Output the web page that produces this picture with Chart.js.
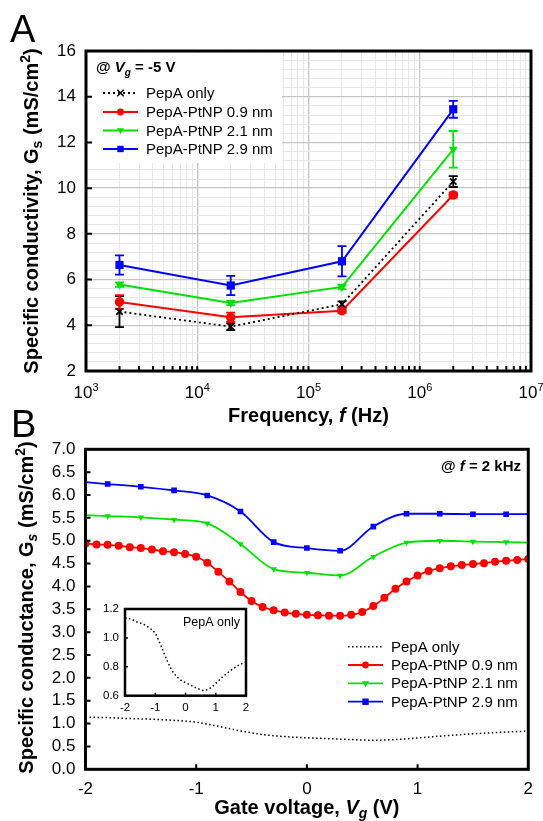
<!DOCTYPE html>
<html>
<head>
<meta charset="utf-8">
<script src="https://cdn.jsdelivr.net/npm/chart.js@4.4.1/dist/chart.umd.min.js"></script>
<style>
  html, body { margin: 0; padding: 0; background: #fff; }
  body { width: 543px; height: 821px; position: relative; overflow: hidden; }
  .box { position: absolute; }
</style>
</head>
<body>
<div class="box" style="left:0;top:0;width:543px;height:430px"><canvas id="chartA"></canvas></div>
<div class="box" style="left:0;top:400px;width:543px;height:421px"><canvas id="chartB"></canvas></div>
<div class="box" style="left:80px;top:595px;width:175px;height:125px"><canvas id="inset"></canvas></div>
<script>
// ---- panel A : conductivity vs frequency @ Vg = -5 V
const freqs = [2e3, 2e4, 2e5, 2e6];
const freqExps = [3, 4, 5, 6, 7];
const pepaOnlyA = [4.60, 3.94, 4.92, 10.29];
const pt09A = [5.02, 4.35, 4.64, 9.70];
const pt21A = [5.78, 4.98, 5.68, 11.70];
const pt29A = [6.64, 5.74, 6.80, 13.45];
const pepaOnlyErr = [0.68, 0.15, 0.13, 0.24];
const pt09Err = [0.30, 0.20, 0.10, 0.10];
const pt21Err = [0.10, 0.10, 0.10, 0.80];
const pt29Err = [0.42, 0.42, 0.66, 0.37];

// ---- panel B : conductance vs gate voltage @ f = 2 kHz
const vgCoarse = [-2, -1.8, -1.5, -1.2, -0.9, -0.6, -0.3, 0, 0.3, 0.6, 0.9, 1.2, 1.5, 1.8, 2];
const pt29B = [6.28, 6.24, 6.18, 6.10, 5.99, 5.64, 4.97, 4.84, 4.78, 5.31, 5.59, 5.59, 5.58, 5.58, 5.58];
const pt21B = [5.56, 5.54, 5.51, 5.46, 5.38, 4.93, 4.38, 4.30, 4.24, 4.65, 4.96, 5.00, 4.98, 4.97, 4.96];
const vgFine = [-2, -1.9, -1.8, -1.7, -1.6, -1.5, -1.4, -1.3, -1.2, -1.1, -1, -0.9, -0.8, -0.7, -0.6, -0.5,
  -0.4, -0.3, -0.2, -0.1, 0, 0.1, 0.2, 0.3, 0.4, 0.5, 0.6, 0.7, 0.8, 0.9, 1, 1.1, 1.2, 1.3, 1.4, 1.5,
  1.6, 1.7, 1.8, 1.9, 2];
const pt09B = [4.94, 4.92, 4.91, 4.89, 4.86, 4.84, 4.81, 4.77, 4.75, 4.71, 4.65, 4.52, 4.32, 4.11, 3.88, 3.68,
  3.55, 3.48, 3.43, 3.40, 3.38, 3.37, 3.36, 3.36, 3.38, 3.44, 3.57, 3.75, 3.95, 4.11, 4.24, 4.34, 4.40, 4.44,
  4.47, 4.49, 4.51, 4.54, 4.56, 4.58, 4.60];
const vgPepA = [-2, -1.8, -1.6, -1.4, -1.2, -1, -0.8, -0.6, -0.4, -0.2, 0, 0.2, 0.4, 0.6, 0.8, 1, 1.2, 1.4, 1.6, 1.8, 2];
const pepaOnlyB = [1.14, 1.13, 1.11, 1.095, 1.07, 1.03, 0.94, 0.84, 0.76, 0.715, 0.69, 0.67, 0.65, 0.636, 0.65,
  0.685, 0.725, 0.76, 0.79, 0.815, 0.835];

const FF = '"Liberation Sans", Arial, Helvetica, sans-serif';
const RED = '#ff0000', GREEN = '#00e000', BLUE = '#0000ff';

const pts = (xs, ys) => xs.map((v, i) => ({ x: v, y: ys[i] }));
const edgeless = xs => xs.map((v, i) => (i === 0 || i === xs.length - 1) ? 0 : 1);

// draws a run of text pieces [text, font, dy] one after another
function rich(ctx, parts, x, y, align) {
  let w = 0;
  for (const p of parts) { ctx.font = p[1]; w += ctx.measureText(p[0]).width; }
  let cx = align === 'center' ? x - w / 2 : (align === 'right' ? x - w : x);
  ctx.textAlign = 'left';
  ctx.textBaseline = 'alphabetic';
  for (const p of parts) {
    ctx.font = p[1];
    ctx.fillText(p[0], cx, y + (p[2] || 0));
    cx += ctx.measureText(p[0]).width;
  }
}

function marker(ctx, style, x, y, r, color) {
  ctx.save();
  ctx.fillStyle = color; ctx.strokeStyle = color;
  ctx.beginPath();
  if (style === 'circle') { ctx.arc(x, y, r, 0, Math.PI * 2); ctx.fill(); }
  else if (style === 'rect') { ctx.fillRect(x - r, y - r, 2 * r, 2 * r); }
  else if (style === 'tri') {
    ctx.moveTo(x - r, y - r * 0.6); ctx.lineTo(x + r, y - r * 0.6); ctx.lineTo(x, y + r);
    ctx.closePath(); ctx.fill();
  } else if (style === 'x') {
    ctx.lineWidth = 1.5;
    ctx.moveTo(x - r, y - r); ctx.lineTo(x + r, y + r);
    ctx.moveTo(x + r, y - r); ctx.lineTo(x - r, y + r); ctx.stroke();
  }
  ctx.restore();
}

function legendRow(ctx, x0, x1, y, ds, style, r, textX) {
  ctx.save();
  ctx.strokeStyle = ds.borderColor; ctx.lineWidth = ds.borderWidth;
  ctx.setLineDash(ds.borderDash || []);
  ctx.beginPath(); ctx.moveTo(x0, y); ctx.lineTo(x1, y); ctx.stroke();
  ctx.setLineDash([]);
  if (style) marker(ctx, style, (x0 + x1) / 2, y, r, ds.borderColor);
  ctx.fillStyle = '#000'; ctx.font = '15px ' + FF;
  ctx.textAlign = 'left'; ctx.textBaseline = 'middle';
  ctx.fillText(ds.label, textX, y + 1);
  ctx.restore();
}

function frame(ctx, a, lw) {
  ctx.save();
  ctx.strokeStyle = '#000'; ctx.lineWidth = lw;
  ctx.strokeRect(a.left, a.top, a.right - a.left, a.bottom - a.top);
  ctx.restore();
}

function inTicks(ctx, scale, values, len, lw) {
  const a = scale.chart.chartArea;
  ctx.save();
  ctx.strokeStyle = '#000'; ctx.lineWidth = lw;
  ctx.beginPath();
  values.forEach(v => {
    const p = scale.getPixelForValue(v);
    if (scale.axis === 'x') { ctx.moveTo(p, a.bottom); ctx.lineTo(p, a.bottom - len); }
    else { ctx.moveTo(a.left, p); ctx.lineTo(a.left + len, p); }
  });
  ctx.stroke();
  ctx.restore();
}

const isDecade = v => Math.abs(Math.log10(v) - Math.round(Math.log10(v))) < 1e-9;
const isEven = v => Math.abs(v / 2 - Math.round(v / 2)) < 1e-6;

// ---------------- panel A ----------------
const errsA = [pepaOnlyErr, pt09Err, pt21Err, pt29Err];
const logTicks = [];
for (let e = 3; e < 7; e++) for (let m = 1; m < 10; m++) logTicks.push(m * Math.pow(10, e));
logTicks.push(1e7);
const yTicksA = [];
for (let k = 0; k <= 35; k++) yTicksA.push(Math.round((2 + k * 0.4) * 10) / 10);

const panelA = {
  id: 'panelA',
  beforeDatasetsDraw(chart) {
    const { ctx, scales: { x, y } } = chart;
    ctx.save();
    ctx.fillStyle = '#fff';
    ctx.fillRect(88, 53, 194, 110);
    ctx.lineWidth = 1.8;
    chart.data.datasets.forEach((ds, i) => {
      ctx.strokeStyle = ds.borderColor;
      ds.data.forEach((p, j) => {
        const e = errsA[i][j];
        const px = x.getPixelForValue(p.x);
        const t = y.getPixelForValue(p.y + e), b = y.getPixelForValue(p.y - e);
        ctx.beginPath();
        ctx.moveTo(px, t); ctx.lineTo(px, b);
        ctx.moveTo(px - 4.5, t); ctx.lineTo(px + 4.5, t);
        ctx.moveTo(px - 4.5, b); ctx.lineTo(px + 4.5, b);
        ctx.stroke();
      });
    });
    ctx.restore();
  },
  afterDraw(chart) {
    const { ctx, chartArea: a, scales: { x, y } } = chart;
    frame(ctx, a, 3);
    inTicks(ctx, x, logTicks.slice(1, -1), 5, 2);
    inTicks(ctx, y, [4, 6, 8, 10, 12, 14], 6, 2);
    ctx.save();
    ctx.fillStyle = '#000';
    freqExps.forEach(e => {
      rich(ctx, [['10', '17px ' + FF], [String(e), '11px ' + FF, -7]], x.getPixelForValue(Math.pow(10, e)), 398, 'center');
    });
    const B20 = 'bold 20px ' + FF, BI20 = 'italic bold 20px ' + FF, B14 = 'bold 14px ' + FF;
    rich(ctx, [['Frequency, ', B20], ['f', BI20], [' (Hz)', B20]], (a.left + a.right) / 2, 422, 'center');
    ctx.save();
    ctx.translate(38, 211);
    ctx.rotate(-Math.PI / 2);
    rich(ctx, [['Specific conductivity, G', B20], ['s', B14, 4], [' (mS/cm', B20], ['2', B14, -8], [')', B20]], 0, 0, 'center');
    ctx.restore();
    ctx.font = '38px ' + FF; ctx.textAlign = 'left'; ctx.textBaseline = 'alphabetic';
    ctx.fillText('A', 10, 42);
    const B15 = 'bold 15px ' + FF, BI15 = 'italic bold 15px ' + FF, BI10 = 'italic bold 10px ' + FF;
    rich(ctx, [['@ ', B15], ['V', BI15], ['g', BI10, 4], [' = -5 V', B15]], 96, 72, 'left');
    ctx.restore();
    const ds = chart.data.datasets;
    legendRow(ctx, 103, 138, 93, ds[0], 'x', 3.2, 146);
    legendRow(ctx, 103, 138, 112, ds[1], 'circle', 3.4, 146);
    legendRow(ctx, 103, 138, 130.5, ds[2], 'tri', 3.6, 146);
    legendRow(ctx, 103, 138, 149, ds[3], 'rect', 3.2, 146);
  }
};

new Chart(document.getElementById('chartA'), {
  type: 'line',
  data: {
    datasets: [
      { label: 'PepA only', data: pts(freqs, pepaOnlyA), borderColor: '#000', backgroundColor: '#000',
        borderWidth: 1.8, borderDash: [2, 3], pointStyle: 'crossRot', pointRadius: 4.5, pointBorderWidth: 1.8 },
      { label: 'PepA-PtNP 0.9 nm', data: pts(freqs, pt09A), borderColor: RED, backgroundColor: RED,
        borderWidth: 2, pointStyle: 'circle', pointRadius: 4.8, pointBorderWidth: 0 },
      { label: 'PepA-PtNP 2.1 nm', data: pts(freqs, pt21A), borderColor: GREEN, backgroundColor: GREEN,
        borderWidth: 2, pointStyle: 'triangle', pointRotation: 180, pointRadius: 5, pointBorderWidth: 0 },
      { label: 'PepA-PtNP 2.9 nm', data: pts(freqs, pt29A), borderColor: BLUE, backgroundColor: BLUE,
        borderWidth: 2, pointStyle: 'rect', pointRadius: 5.8, pointBorderWidth: 0 }
    ]
  },
  options: {
    responsive: true,
    maintainAspectRatio: false,
    animation: false,
    events: [],
    layout: { padding: { top: 51, right: 12, left: 0, bottom: 0 } },
    scales: {
      x: {
        type: 'logarithmic', min: 1e3, max: 1e7,
        afterBuildTicks: s => { s.ticks = logTicks.map(v => ({ value: v })); },
        afterFit: s => { s.height = 59; },
        ticks: { display: false, autoSkip: false },
        border: { display: false },
        grid: { drawTicks: false, color: c => isDecade(c.tick.value) ? '#c6c6c6' : '#e8e8e8', lineWidth: c => isDecade(c.tick.value) ? 1.3 : 1 }
      },
      y: {
        min: 2, max: 16,
        afterBuildTicks: s => { s.ticks = yTicksA.map(v => ({ value: v })); },
        afterFit: s => { s.width = 86; },
        border: { display: false },
        ticks: { autoSkip: false, padding: 10, color: '#000', font: { family: FF, size: 17 }, callback: v => isEven(v) ? String(Math.round(v)) : '' },
        grid: { drawTicks: false, color: c => isEven(c.tick.value) ? '#c6c6c6' : '#e8e8e8', lineWidth: c => isEven(c.tick.value) ? 1.3 : 1 }
      }
    },
    plugins: { legend: { display: false }, tooltip: { enabled: false } }
  },
  plugins: [panelA]
});

// ---------------- panel B ----------------
const panelB = {
  id: 'panelB',
  afterDraw(chart) {
    const { ctx, chartArea: a, scales: { x, y } } = chart;
    frame(ctx, a, 3);
    inTicks(ctx, x, [-1, 0, 1], 5, 2);
    inTicks(ctx, y, [0.5, 1, 1.5, 2, 2.5, 3, 3.5, 4, 4.5, 5, 5.5, 6, 6.5], 5, 2);
    ctx.save();
    ctx.fillStyle = '#000';
    const B20 = 'bold 20px ' + FF, BI20 = 'italic bold 20px ' + FF, BI14 = 'italic bold 14px ' + FF, B14 = 'bold 14px ' + FF;
    rich(ctx, [['Gate voltage, ', B20], ['V', BI20], ['g', BI14, 4], [' (V)', B20]], (a.left + a.right) / 2, 414, 'center');
    ctx.save();
    ctx.translate(33, 207.5);
    ctx.rotate(-Math.PI / 2);
    rich(ctx, [['Specific conductance, G', B20], ['s', BI14, 4], [' (mS/cm', B20], ['2', B14, -8], [')', B20]], 0, 0, 'center');
    ctx.restore();
    ctx.font = '38px ' + FF; ctx.textAlign = 'left'; ctx.textBaseline = 'alphabetic';
    ctx.fillText('B', 11, 37);
    const B15 = 'bold 15px ' + FF, BI15 = 'italic bold 15px ' + FF;
    rich(ctx, [['@ ', B15], ['f', BI15], [' = 2 kHz', B15]], 521, 71, 'right');
    ctx.restore();
    const ds = chart.data.datasets;
    legendRow(ctx, 348, 383, 246.7, ds[0], null, 0, 391);
    legendRow(ctx, 348, 383, 265, ds[1], 'circle', 3.4, 391);
    legendRow(ctx, 348, 383, 283.3, ds[2], 'tri', 3.6, 391);
    legendRow(ctx, 348, 383, 301.7, ds[3], 'rect', 3.2, 391);
  }
};

new Chart(document.getElementById('chartB'), {
  type: 'line',
  data: {
    datasets: [
      { label: 'PepA only', data: pts(vgPepA, pepaOnlyB), borderColor: '#000', borderWidth: 1.5,
        borderDash: [1.5, 2.5], pointRadius: 0, cubicInterpolationMode: 'monotone' },
      { label: 'PepA-PtNP 0.9 nm', data: pts(vgFine, pt09B), borderColor: RED, backgroundColor: RED,
        borderWidth: 1.8, pointStyle: 'circle', pointRadius: 4, pointBorderWidth: 0, cubicInterpolationMode: 'monotone' },
      { label: 'PepA-PtNP 2.1 nm', data: pts(vgCoarse, pt21B), borderColor: GREEN, backgroundColor: GREEN,
        borderWidth: 1.8, pointStyle: 'triangle', pointRotation: 180, pointRadius: edgeless(vgCoarse).map(k => k * 3.6),
        pointBorderWidth: 0, cubicInterpolationMode: 'monotone' },
      { label: 'PepA-PtNP 2.9 nm', data: pts(vgCoarse, pt29B), borderColor: BLUE, backgroundColor: BLUE,
        borderWidth: 1.8, pointStyle: 'rect', pointRadius: edgeless(vgCoarse).map(k => k * 4), pointBorderWidth: 0,
        cubicInterpolationMode: 'monotone' }
    ]
  },
  options: {
    responsive: true,
    maintainAspectRatio: false,
    animation: false,
    events: [],
    layout: { padding: { top: 49.3, right: 11.5, left: 0, bottom: 0 } },
    scales: {
      x: {
        type: 'linear', min: -2, max: 2,
        afterFit: s => { s.height = 51.7; },
        border: { display: false },
        grid: { display: false, drawTicks: false },
        ticks: { autoSkip: false, stepSize: 1, padding: 10, color: '#000', font: { family: FF, size: 17 }, callback: v => String(v) }
      },
      y: {
        min: 0, max: 7,
        afterFit: s => { s.width = 85.5; },
        border: { display: false },
        grid: { display: false, drawTicks: false },
        ticks: { autoSkip: false, stepSize: 0.5, padding: 10, color: '#000', font: { family: FF, size: 17 }, callback: v => v.toFixed(1) }
      }
    },
    plugins: { legend: { display: false }, tooltip: { enabled: false } }
  },
  plugins: [panelB]
});

// ---------------- inset: PepA only ----------------
const insetDeco = {
  id: 'insetDeco',
  afterDraw(chart) {
    const { ctx, chartArea: a, scales: { x, y } } = chart;
    frame(ctx, a, 2.5);
    inTicks(ctx, x, [-1, 0, 1], 3, 1.5);
    inTicks(ctx, y, [0.8, 1.0], 3, 1.5);
    ctx.save();
    ctx.fillStyle = '#000';
    ctx.font = '12.5px ' + FF; ctx.textAlign = 'right'; ctx.textBaseline = 'alphabetic';
    ctx.fillText('PepA only', 160, 31);
    ctx.restore();
  }
};

new Chart(document.getElementById('inset'), {
  type: 'line',
  data: {
    datasets: [
      { label: 'PepA only', data: pts(vgPepA, pepaOnlyB), borderColor: '#000', borderWidth: 1.5,
        borderDash: [1.5, 2.5], pointRadius: 0, cubicInterpolationMode: 'monotone' }
    ]
  },
  options: {
    responsive: true,
    maintainAspectRatio: false,
    animation: false,
    events: [],
    layout: { padding: { top: 14, right: 9, left: 0, bottom: 0 } },
    scales: {
      x: {
        type: 'linear', min: -2, max: 2,
        afterFit: s => { s.height = 24.3; },
        border: { display: false },
        grid: { display: false, drawTicks: false },
        ticks: { autoSkip: false, stepSize: 1, padding: 5.5, color: '#000', font: { family: FF, size: 11.5 }, callback: v => String(v) }
      },
      y: {
        min: 0.6, max: 1.2,
        afterFit: s => { s.width = 45; },
        border: { display: false },
        grid: { display: false, drawTicks: false },
        ticks: { autoSkip: false, stepSize: 0.2, padding: 6, color: '#000', font: { family: FF, size: 11.5 }, callback: v => v.toFixed(1) }
      }
    },
    plugins: { legend: { display: false }, tooltip: { enabled: false } }
  },
  plugins: [insetDeco]
});
</script>
</body>
</html>
